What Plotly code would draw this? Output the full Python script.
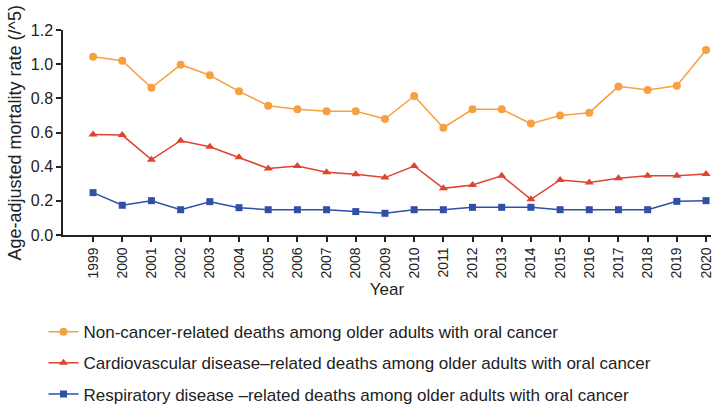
import plotly.graph_objects as go

years = list(range(1999, 2021))
non_cancer = [1.044, 1.020, 0.862, 0.997, 0.935, 0.841, 0.757, 0.736, 0.724, 0.724,
              0.679, 0.814, 0.628, 0.736, 0.736, 0.652, 0.700, 0.716, 0.870, 0.849,
              0.874, 1.083]
cardio = [0.589, 0.585, 0.441, 0.552, 0.517, 0.455, 0.390, 0.404, 0.367, 0.355,
          0.336, 0.404, 0.273, 0.293, 0.347, 0.209, 0.322, 0.308, 0.332, 0.347,
          0.347, 0.357]
resp = [0.248, 0.174, 0.201, 0.148, 0.195, 0.160, 0.148, 0.148, 0.148, 0.137,
        0.127, 0.148, 0.148, 0.162, 0.162, 0.162, 0.148, 0.148, 0.148, 0.148,
        0.197, 0.201]

names = [
    "Non-cancer-related deaths among older adults with oral cancer",
    "Cardiovascular disease\u2013related deaths among older adults with oral cancer",
    "Respiratory disease \u2013related deaths among older adults with oral cancer",
]
y_title = "Age-adjusted mortality rate (/^5)"
x_title = "Year"
colors = ["#F7A040", "#E0432F", "#2F4FA8"]
symbols = ["circle", "triangle-up", "square"]
series = [non_cancer, cardio, resp]

FONT = "Liberation Sans, Arial, sans-serif"
TXT = "#222222"

fig = go.Figure()
for i, (vals, nm, c, s) in enumerate(zip(series, names, colors, symbols)):
    fig.add_trace(go.Scatter(
        x=years, y=vals, name=nm, mode="lines+markers",
        line=dict(color=c, width=1.5),
        marker=dict(symbol=s, size=8 if s != "square" else 7, color=c),
        legendgroup=f"g{i}", cliponaxis=False,
    ))

fig.add_annotation(
    text=y_title, xref="paper", yref="paper", x=-63 / 648, y=0.5,
    xshift=14, xanchor="center", yanchor="middle", textangle=-90,
    showarrow=False, font=dict(size=18, family=FONT, color=TXT),
)

fig.update_layout(
    width=713, height=407,
    margin=dict(l=63, r=2, t=30, b=172, autoexpand=False),
    paper_bgcolor="white", plot_bgcolor="white",
    font=dict(family=FONT, color=TXT),
    showlegend=True,
    legend=dict(
        xref="container", yref="container",
        x=0.061, y=0.228, xanchor="left", yanchor="top",
        orientation="v", traceorder="grouped", tracegroupgap=6,
        font=dict(size=17, family=FONT, color=TXT),
        bgcolor="rgba(0,0,0,0)",
    ),
    xaxis=dict(
        range=[1997.97, 2020.17], tickmode="array", tickvals=years,
        ticktext=[str(y) for y in years], tickangle=-90,
        ticklabeloverflow="allow",
        showline=True, linecolor=TXT, linewidth=1.5,
        ticks="outside", ticklen=5, tickwidth=1.5, tickcolor=TXT,
        showgrid=False, zeroline=False,
        tickfont=dict(size=14, family=FONT, color=TXT),
        title=dict(text=x_title, font=dict(size=17, family=FONT, color=TXT), standoff=6),
    ),
    yaxis=dict(
        range=[0, 1.2], dtick=0.2, tickformat=".1f",
        showline=True, linecolor=TXT, linewidth=1.5,
        ticks="outside", ticklen=5, tickwidth=1.5, tickcolor=TXT,
        showgrid=False, zeroline=False,
        tickfont=dict(size=16, family=FONT, color=TXT),
    ),
)

fig.write_html("out.html")
